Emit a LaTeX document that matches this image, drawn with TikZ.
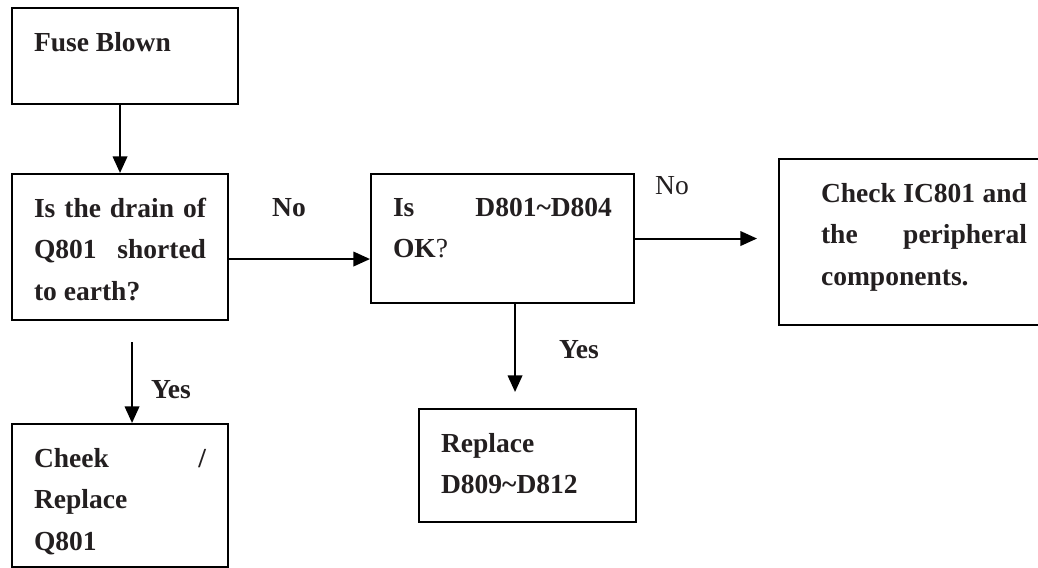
\documentclass[tikz,border=0pt]{standalone}
\usepackage{fontspec}
\setmainfont{Liberation Serif}
\usetikzlibrary{arrows.meta}
\definecolor{ink}{HTML}{231F20}
\def\pxu{0.436pt}
% text of a box: width and height in pixels, set at the top
\newcommand{\boxtext}[3]{\parbox[c][\dimexpr\pxu*#2\relax][t]{\dimexpr\pxu*#1\relax}{#3}}

\begin{document}
\begin{tikzpicture}[x=\pxu, y=-\pxu,
  box/.style={draw, line width=0.9pt, anchor=north west, inner xsep=22*\pxu, inner ysep=24*\pxu,
    font=\bfseries\fontsize{12}{18.1}\selectfont, text=ink},
  lbl/.style={font=\fontsize{12}{14}\selectfont, text=ink},
  blbl/.style={lbl, font=\bfseries\fontsize{12}{14}\selectfont},
  arr/.style={line width=0.9pt, -{Triangle[length=7.2pt,width=6.3pt]}}]
\clip (0,0) rectangle (1038,567);
% boxes
\node[box] (fuse) at (11,7) {\boxtext{182}{48}{Fuse Blown}};
\node[box] (drain) at (11,173) {\boxtext{172}{98}{Is the drain of\linebreak Q801 shorted\linebreak to earth?}};
\node[box] (cheek) at (11,423) {\boxtext{172}{95}{Cheek /\linebreak Replace\\Q801}};
\node[box] (ok) at (370,173) {\boxtext{219}{81}{Is D801\textasciitilde D804\linebreak OK\textmd{?}}};
\node[box] (rep) at (418,408) {\boxtext{173}{65}{Replace\\D809\textasciitilde D812}};
\node[box, inner xsep=42*\pxu] (check) at (778,158) {\boxtext{206}{118}{Check IC801 and\linebreak the peripheral\linebreak components.}};
% connectors
\draw[arr] (fuse.south -| drain.north) -- (drain.north);
\draw[arr] ([yshift=-12*\pxu]drain.east) -- ([yshift=-20.5*\pxu]ok.west);
\draw[arr, shorten <=21*\pxu] ([xshift=12*\pxu]drain.south) -- ([xshift=12*\pxu]cheek.north);
\draw[arr, shorten >=21*\pxu] (ok.east) -- (ok.east -| check.west);
\draw[arr, shorten >=16*\pxu] ([xshift=12.5*\pxu]ok.south) -- ([xshift=-12.5*\pxu]rep.north);
% labels
\node[blbl] (no1) at (289,208) {No};
\node[lbl] (no2) at (672,186) {No};
\node[blbl] (yes1) at (171,390) {Yes};
\node[blbl] (yes2) at (579,350) {Yes};
\end{tikzpicture}
\end{document}
